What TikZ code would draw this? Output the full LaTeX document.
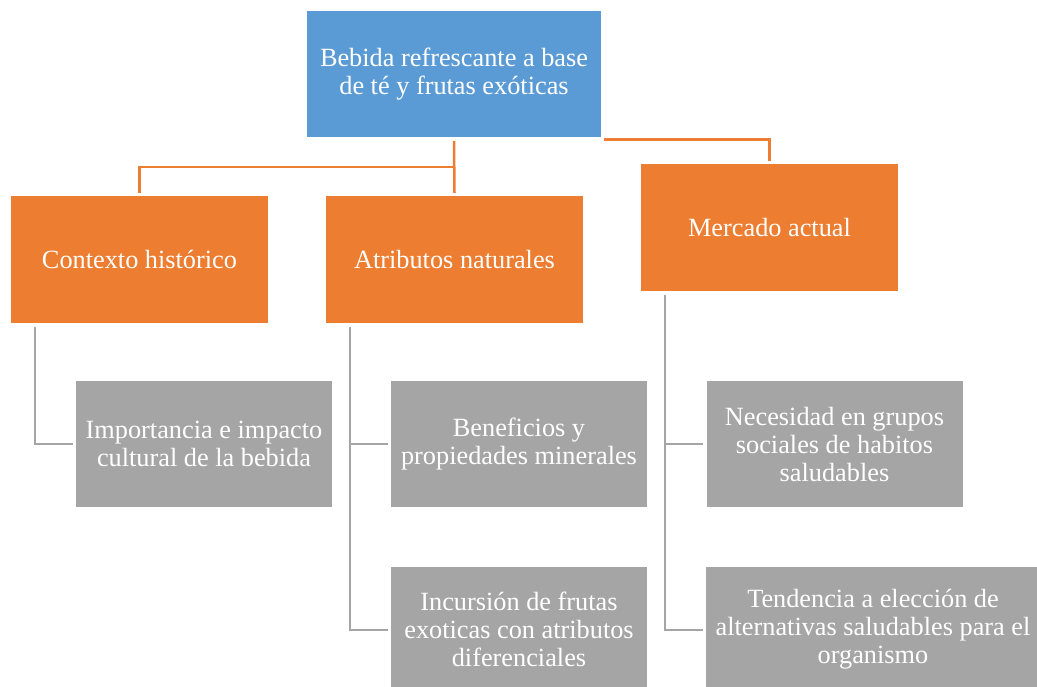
\documentclass[tikz,border=0pt]{standalone}
\usepackage{fontspec}
\setmainfont{Liberation Serif}
\definecolor{azul}{HTML}{5B9BD5}
\definecolor{naranja}{HTML}{ED7D31}
\definecolor{gris}{HTML}{A5A5A5}
\tikzset{
  caja/.style={text=white, align=center, inner sep=2pt, font=\fontsize{26.3}{28}\selectfont},
  raiz/.style={caja, fill=azul, minimum width=294pt, minimum height=126pt},
  tema/.style={caja, fill=naranja, minimum width=257pt, minimum height=127pt},
  detalle/.style={caja, fill=gris, minimum width=256pt, minimum height=126pt},
  enlace/.style={naranja, line width=2.5pt},
  rama/.style={gris, line width=2pt}
}
\begin{document}
\begin{tikzpicture}[x=1pt, y=-1pt]
  \useasboundingbox (0,0) rectangle (1037,686);
  % nivel superior
  \node[raiz] (bebida) at (454,74) {Bebida refrescante a base\\de té y frutas exóticas};
  % temas
  \node[tema] (contexto) at (139.5,259.5) {Contexto histórico};
  \node[tema] (atributos) at (454.5,259.5) {Atributos naturales};
  \node[tema] (mercado) at (769.5,227.5) {Mercado actual};
  % detalles
  \node[detalle] (importancia) at (204,444) {Importancia e impacto\\cultural de la bebida};
  \node[detalle] (beneficios) at (519,444) {Beneficios y\\propiedades minerales};
  \node[detalle] (incursion) at (519,629.5) {Incursión de frutas\\exoticas con atributos\\diferenciales};
  \node[detalle] (necesidad) at (834.5,444) {Necesidad en grupos\\sociales de habitos\\saludables};
  \node[detalle, minimum width=334pt] (tendencia) at (873,629.5) {Tendencia a elección de\\alternativas saludables para el\\organismo};
  % conectores naranja
  \coordinate (cruce) at (454,167);
  \draw[enlace] ([yshift=-4pt]bebida.south) -- ([yshift=3pt]atributos.north);
  \draw[enlace] (cruce) -| ([yshift=3pt]contexto.north);
  \draw[enlace] ([xshift=3pt,yshift=-2.5pt]bebida.south east) -| ([yshift=3pt]mercado.north);
  % conectores grises
  \draw[rama] ([xshift=24.5pt,yshift=-4pt]contexto.south west) |- ([xshift=-3pt]importancia.west);
  \draw[rama] ([xshift=24.5pt,yshift=-4pt]atributos.south west) |- ([xshift=-3pt]incursion.west);
  \draw[rama] ([xshift=24.5pt]atributos.south west |- beneficios.west) -- ([xshift=-3pt]beneficios.west);
  \draw[rama] ([xshift=24.5pt,yshift=-4pt]mercado.south west) |- ([xshift=-3pt]tendencia.west);
  \draw[rama] ([xshift=24.5pt]mercado.south west |- necesidad.west) -- ([xshift=-3pt]necesidad.west);
\end{tikzpicture}
\end{document}
